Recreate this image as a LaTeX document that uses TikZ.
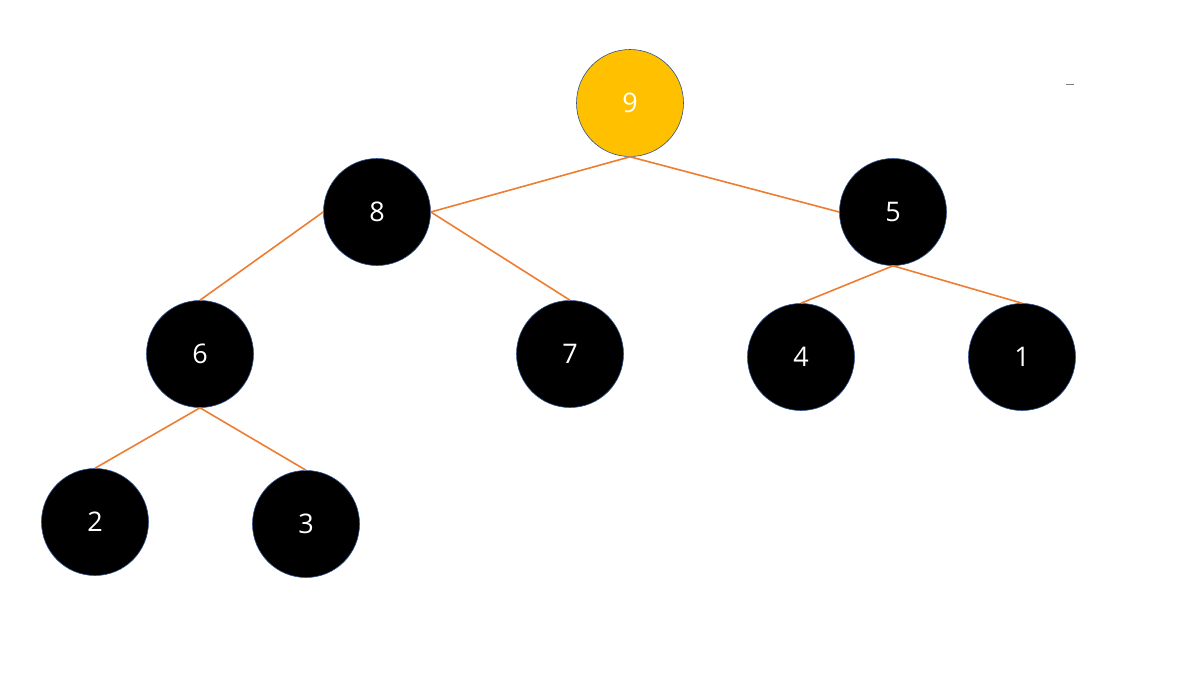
\documentclass[tikz,border=0pt]{standalone}
\usepackage{fontspec}
\setmainfont{Open Sans}
\definecolor{heapgold}{RGB}{255,192,0}
\definecolor{heapedge}{RGB}{237,125,49}
\definecolor{heaprim}{RGB}{47,82,143}
\begin{document}
\begin{tikzpicture}[x=1pt,y=-1pt,
  key/.style={circle,draw=heaprim,line width=0.6pt,fill=black,text=white,
    minimum size=107pt,inner sep=0pt,font=\fontsize{27}{32}\selectfont},
  top/.style={key,fill=heapgold},
  link/.style={heapedge,line width=1.6pt}]
\useasboundingbox (0,0) rectangle (1187,686);
  % root and children
  \node[top] (n9) at (630,103) {9};
  \node[key] (n8) at (377,212) {8};
  \node[key] (n5) at (893,212) {5};
  \node[key] (n6) at (200,354) {6};
  \node[key] (n7) at (570,354) {7};
  \node[key] (n4) at (801,357) {4};
  \node[key] (n1) at (1022,357) {1};
  \node[key] (n2) at (95,522) {2};
  \node[key] (n3) at (306,524) {3};
  \draw[link] (n9.south) -- (n8.east);
  \draw[link] (n9.south) -- (n5.west);
  \draw[link] (n8.west) -- (n6.north);
  \draw[link] (n8.east) -- (n7.north);
  \draw[link] (n5.south) -- (n4.north);
  \draw[link] (n5.south) -- (n1.north);
  \draw[link] (n6.south) -- (n2.north);
  \draw[link] (n6.south) -- (n3.north);
  % stray mark
  \coordinate (m1) at (1066,84);
  \coordinate (m2) at (1074,84);
  \draw[gray,line width=1pt] (m1) -- (m2);
\end{tikzpicture}
\end{document}
